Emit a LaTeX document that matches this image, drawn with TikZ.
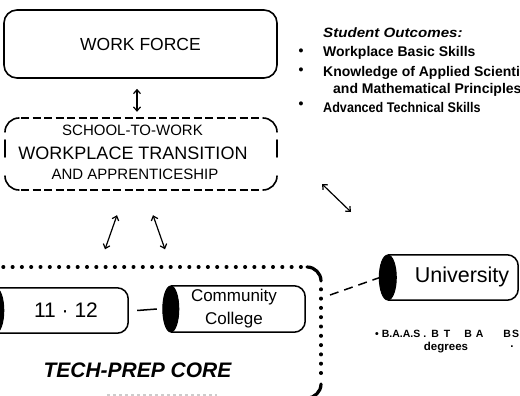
\documentclass[tikz,border=0pt]{standalone}
\usepackage{fontspec}
\setmainfont{Liberation Sans}
\usepackage{graphicx}
\usetikzlibrary{arrows.meta}
\newcommand\fsz[2]{\fontsize{#1}{#2}\selectfont}
\begin{document}
\begin{tikzpicture}[x=1pt,y=-1pt,
  wfbox/.style={draw, line width=1.6pt, rounded corners=13pt},
  plain/.style={inner sep=0pt},
  item/.style={inner sep=0pt, anchor=west, font=\bfseries\fsz{14}{16}},
  bul/.style={inner sep=0pt, font=\bfseries\fsz{14}{16}},
  dbl/.style={{Straight Barb[length=4pt,width=7pt]}-{Straight Barb[length=4pt,width=7pt]}, line width=1.2pt},
  cylbox/.style={inner sep=0pt},
  cylline/.style={draw, line width=1.5pt, rounded corners=11pt},
  face/.style={fill=black, draw=black, line width=1pt},
  dashside/.style={line width=1.6pt, dash pattern=on 8pt off 3.5pt},
  solidside/.style={line width=1.6pt, line cap=round},
  dotline/.style={line width=3.4pt, dash pattern=on 0.6pt off 8.7pt, line cap=round},
  thickarc/.style={line width=3.2pt, line cap=round},
  link/.style={line width=1.5pt},
  dashlink/.style={line width=1.5pt, dash pattern=on 9pt off 6pt}
]
\useasboundingbox (0,0) rectangle (520,396);
\clip (0,0) rectangle (520,396);
\fill[white] (0,0) rectangle (520,396);

% WORK FORCE
\node[wfbox, minimum width=273pt, minimum height=68pt, font=\fsz{17.5}{21}] (wf) at (140.5,44) {WORK FORCE};

% Transition box
\node[plain, minimum width=272pt, minimum height=72pt] (trans) at (141,154) {};
\node[plain, font=\fsz{15}{18}] (t1) at (132.5,130) {SCHOOL-TO-WORK};
\node[plain, font=\fsz{18}{21}] (t2) at (133,153) {WORKPLACE TRANSITION};
\node[plain, font=\fsz{15}{18}] (t3) at (135,174) {AND APPRENTICESHIP};
\draw[dashside] (21,118) -- (262,118);
\draw[dashside] (21,190) -- (262,190);
\draw[solidside] (5,132) .. controls (5,124.3) and (11.3,118) .. (19,118);
\draw[solidside] (263,118) .. controls (270.7,118) and (277,124.3) .. (277,132);
\draw[solidside] (277,176) .. controls (277,183.7) and (270.7,190) .. (263,190);
\draw[solidside] (19,190) .. controls (11.3,190) and (5,183.7) .. (5,176);
\draw[solidside] (5,140) -- (5,157);
\draw[solidside] (277,140) -- (277,157);

\draw[dbl] ([shift={(-3.5,10)}]wf.south) -- ([shift={(-4,-6)}]trans.north);

% Student outcomes
\node[plain, anchor=west, font=\bfseries\itshape\fsz{13.5}{16}] (so) at (323,33) {\scalebox{1.12}[1]{Student Outcomes:}};
\node[bul] (b1) at (301,52) {•};
\node[bul] (b2) at (301,71) {•};
\node[bul] (b3) at (301,105) {•};
\node[item] (o1) at (323,53) {Workplace Basic Skills};
\node[item] (o2) at (323,73) {Knowledge of Applied Scientific};
\node[item] (o3) at (333,90) {and Mathematical Principles};
\node[item] (o4) at (323,107) {\scalebox{0.9}[1]{Advanced Technical Skills}};

% Tech-prep core box
\node[plain, minimum width=331pt, minimum height=131pt] (core) at (155.5,333) {};
\draw[dotline] (3,267) -- (305,267);
\draw[thickarc] (307,267) .. controls (314.7,267) and (321,273.3) .. (321,281);
\draw[dotline] (321,289) -- (321,380);
\draw[thickarc] (321,384) .. controls (321,391.7) and (314.7,398) .. (307,398);
\node[plain, font=\bfseries\itshape\fsz{21}{24}] (tpc) at (137.5,370) {TECH-PREP CORE};
\draw[gray!40, line width=1.5pt, dash pattern=on 3pt off 3pt] (107,395) -- (217,395);

\draw[dbl] ([shift={(-24,25)}]trans.south) -- ([shift={(-50.5,-18)}]core.north);
\draw[dbl] ([shift={(12,25)}]trans.south) -- ([shift={(9.5,-18)}]core.north);

% 11-12 cylinder
\node[cylbox, minimum width=132pt, minimum height=45pt] (g) at (62,310.5) {};
\draw[cylline] (g.north west) -- (g.north east) -- (g.south east) -- (g.south west);
\draw[face] (g.west) ellipse [x radius=8pt, y radius=22.5pt];
\node[plain, font=\fsz{21}{24}] (gt) at (66,310) {11 · 12};

% Community College cylinder
\node[cylbox, minimum width=134pt, minimum height=46pt] (cc) at (238,309) {};
\draw[cylline] (cc.north west) -- (cc.north east) -- (cc.south east) -- (cc.south west);
\draw[face] (cc.west) ellipse [x radius=8pt, y radius=23pt];
\node[plain, align=center, font=\fsz{17}{23}] (cct) at (234,309) {Community\\College};

\draw[link] ([shift={(9,0)}]g.east) -- ([shift={(-14,0)}]cc.west);

% University cylinder
\node[cylbox, minimum width=130pt, minimum height=45pt] (uni) at (453,277.5) {};
\coordinate (coreR) at (330,295);
\draw[dashlink] (coreR) -- ([shift={(-8,0)}]uni.west);
\draw[cylline] (uni.north west) -- (uni.north east) -- (uni.south east) -- (uni.south west);
\draw[face] (uni.west) ellipse [x radius=8.5pt, y radius=22.5pt];
\node[plain, font=\fsz{21.5}{25}] (unit) at (462,277) {University};

\node[plain, anchor=west, font=\bfseries\fsz{10.5}{12}] (degs) at (375,334) {•\hspace{3pt}B.A.A.S\hspace{3pt}.\hspace{5pt}B\hspace{5pt}T\hspace{14pt}B\hspace{4pt}A\hspace{20pt}B\hspace{1pt}S};
\node[plain, font=\bfseries\fsz{11.5}{13}] (deg2) at (446,348) {degrees};
\node[plain, font=\bfseries\fsz{11.5}{13}] (dot) at (512,347) {.};

% right double arrow
\coordinate (ra1) at (322,184);
\coordinate (ra2) at (351,212);
\draw[dbl] (ra1) -- (ra2);
\end{tikzpicture}
\end{document}
